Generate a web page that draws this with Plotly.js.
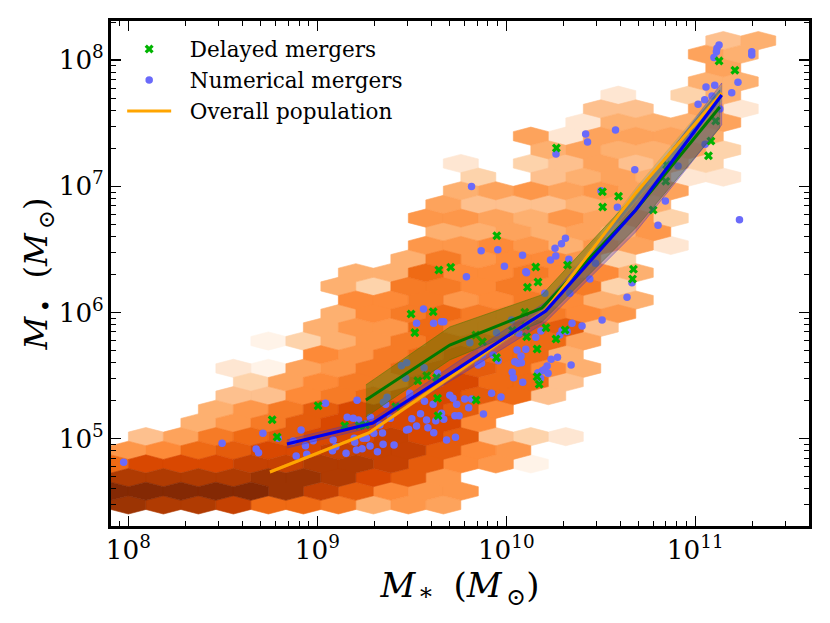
<!DOCTYPE html>
<html><head><meta charset="utf-8">
<script src="https://cdn.plot.ly/plotly-3.0.1.min.js"></script>
<style>html,body{margin:0;padding:0;background:#fff}</style></head>
<body><div id="chart" style="width:830px;height:623px"></div>
<script>
// all values are log10 of the mass
const blueLogMstar=[7.975,8.496,8.712,8.676,8.689,8.793,8.914,8.872,8.937,8.978,8.888,8.944,9.043,9.210,9.158,9.190,9.218,9.281,9.257,9.084,9.098,9.080,9.152,9.195,9.198,9.207,9.237,9.242,9.260,9.299,9.279,9.318,9.345,9.348,9.331,9.406,9.350,9.369,9.362,9.387,9.445,9.473,9.467,9.525,9.562,9.615,9.657,9.669,9.565,9.636,9.489,9.489,9.567,9.613,9.500,9.546,9.578,9.627,9.657,9.669,9.701,9.718,9.737,9.728,9.750,9.525,9.472,9.483,9.585,9.616,9.684,9.731,9.789,10.107,10.442,10.336,10.204,10.507,10.027,10.348,10.401,9.948,9.807,10.066,10.183,10.156,10.295,10.322,10.283,10.057,10.103,10.078,9.930,9.957,10.045,10.062,10.080,9.874,9.869,9.851,10.237,10.271,10.343,10.216,10.204,10.191,10.221,10.167,10.181,10.031,10.038,10.087,9.922,9.972,9.780,9.816,9.801,9.879,10.639,10.665,11.126,11.115,11.112,11.099,11.299,11.299,11.226,11.193,11.103,11.057,11.089,11.050,11.015,11.130,10.983,11.052,10.909,10.578,10.420,10.430,10.263,10.680,9.816,10.501,10.588,10.842,10.803,11.234,10.313,10.292,10.258,10.262,10.234,10.331,9.867,9.955,10.086,9.990,10.103,10.472];
const blueLogMbh=[4.813,4.963,5.043,4.918,4.889,5.003,5.069,4.982,4.944,4.984,4.863,4.876,5.280,5.304,5.169,5.162,5.148,5.169,5.116,4.990,4.936,4.905,4.884,5.003,4.971,4.910,4.921,5.003,5.003,5.043,4.942,4.897,5.045,4.955,5.108,4.950,5.288,5.328,5.272,5.162,5.578,5.602,5.478,5.914,6.027,5.914,5.927,5.927,5.562,5.518,5.359,5.333,5.296,5.272,5.158,5.198,5.148,5.142,5.201,5.153,5.344,5.320,5.272,5.182,5.182,5.100,5.069,5.074,5.087,5.047,4.990,5.011,6.283,6.315,6.265,6.152,6.152,5.940,5.940,5.914,5.893,5.840,5.760,5.835,5.853,5.803,5.856,5.848,5.821,5.703,5.708,5.655,5.663,5.618,5.610,5.597,5.602,5.663,5.597,5.584,5.629,5.645,5.584,5.576,5.550,5.539,5.518,5.523,5.478,5.526,5.483,5.447,5.359,5.330,5.314,5.314,5.245,5.195,6.120,6.236,8.119,8.093,8.066,8.019,8.066,8.040,7.824,7.741,7.800,7.787,7.715,7.686,7.650,7.612,7.432,7.333,7.161,7.446,7.414,7.351,7.256,7.131,6.997,6.965,6.833,6.883,6.691,6.735,6.588,6.545,6.508,6.447,6.416,6.421,6.489,6.497,6.453,6.366,6.323,6.390];
const greenLogMstar=[11.126,11.210,11.108,11.083,11.070,10.265,10.849,10.844,10.509,10.594,10.510,10.777,9.950,10.156,10.324,10.673,10.668,10.168,10.112,10.098,10.033,9.839,9.874,10.103,10.108,10.210,10.311,10.263,10.163,9.948,10.163,10.174,9.840,8.761,8.787,9.004,9.145,9.221,9.255,9.415,9.496,9.613,9.516,9.532,9.579,9.631,9.636,9.639,9.643,9.706];
const greenLogMbh=[7.993,7.919,7.517,7.359,7.242,7.303,7.169,7.039,6.957,6.921,6.836,6.812,6.608,6.360,6.376,6.342,6.265,6.241,6.199,6.001,5.856,5.821,5.768,5.893,5.808,5.879,5.861,5.790,5.711,5.642,5.491,5.431,5.306,5.150,5.013,5.261,5.103,5.103,5.108,5.253,5.988,6.006,5.840,5.459,5.499,5.483,5.320,5.182,6.337,6.358];
const overallX=[8.749,9.272,9.743,10.209,10.685,11.140];
const overallY=[4.736,5.045,5.528,6.020,6.947,7.739];
const overallHi=[4.745,5.055,5.545,6.040,6.985,7.800];
const overallLo=[4.727,5.035,5.510,5.995,6.880,7.670];
const numX=[8.839,9.294,9.749,10.209,10.685,11.140];
const numY=[4.958,5.124,5.560,6.012,6.812,7.723];
const numHi=[4.990,5.156,5.615,6.083,6.907,7.818];
const numLo=[4.926,5.092,5.497,5.925,6.638,7.486];
const delX=[9.257,9.701,10.188,10.685,11.130];
const delY=[5.306,5.742,6.035,6.812,7.628];
const delHi=[5.426,5.885,6.139,6.940,7.763];
const delLo=[5.172,5.624,5.925,6.670,7.462];
// hexbin: one row per grid row, first entry = first column, others = density level
const hexRows=[
[0,15,14,14,13,10,10,9,5,7,6],
[0,16,16,16,16,16,15,13,11,8,7,7],
[0,14,14,14,14,15,15,14,12,11,7],
[0,10,12,12,12,13,13,14,14,13,11,8,7,1],
[0,7,8,10,11,12,12,13,13,13,11,8,7],
[1,4,6,9,10,11,12,12,13,12,11,4,3,2],
[2,5,7,9,11,12,12,12,12,8],
[3,5,7,9,11,12,12,12,11,8],
[3,4,4,8,9,10,11,12,11,10,4],
[4,3,6,8,9,9,11,12,10,10,4],
[3,2,1,6,7,9,10,11,11,10,8,5],
[6,8,7,9,10,11,10,10,5],
[4,1,3,5,7,9,10,10,10,10,6],
[6,5,7,7,10,9,9,11,11,4],
[6,5,8,9,10,9,9,9,8,7],
[7,8,8,9,7,8,9,8,5,5],
[6,5,3,9,9,8,9,8,9,3],
[7,5,5,10,8,8,9,8,8,5],
[8,5,9,7,8,8,7,3],
[9,7,7,8,7,5,7,6,2],
[9,5,5,6,5,6,5,7],
[9,7,7,6,5,7,6,7,3],
[9,6,4,4,4,5,6,5],
[10,5,6,7,6,7,6,6],
[10,3,0,4,5,6,5,2,2],
[10,2,0,3,4,6,4,5,3],
[12,5,6,5,5,6,3],
[12,6,2,6,6,6,5],
[13,2,5,5,5,6],
[14,4,4,0,6,2],
[14,2,0,3,5],
[17,5,5],
[17,6],
[17,6,5],
[17,4,5]];
const hexX0=8.0, hexDX=0.1852, hexY0=4.475, hexDY=0.1082;
const levelColors=['','#fff3e8','#fee6d2','#fdd3ab','#fdc08e','#fdb070','#fda35c','#fd974a','#fd8a38','#f67b26','#ef6a14','#e55c0c','#d94801','#c54102','#b03b02','#9c3403','#842904'];

const p=a=>a.map(v=>Math.pow(10,v));
const traces=[];
const byLevel={};
hexRows.forEach((row,r)=>{
  row.slice(1).forEach((lev,i)=>{
    if(!lev)return;
    const k=row[0]+i, cx=hexX0+hexDX*(k-(r%2?0.5:0)), cy=hexY0+hexDY*r;
    const hw=hexDX/2, ht=hexDY*2/3, hs=hexDY/3;
    const b=byLevel[lev]||(byLevel[lev]={x:[],y:[]});
    [[-hw,-hs],[0,-ht],[hw,-hs],[hw,hs],[0,ht],[-hw,hs],[-hw,-hs]].forEach(v=>{
      b.x.push(Math.pow(10,cx+v[0]));b.y.push(Math.pow(10,cy+v[1]));});
    b.x.push(null);b.y.push(null);
  });
});
Object.keys(byLevel).forEach(l=>{
  traces.push({type:'scatter',mode:'lines',x:byLevel[l].x,y:byLevel[l].y,fill:'toself',fillcolor:levelColors[l],
    line:{color:levelColors[l],width:0.6},hoverinfo:'skip',showlegend:false});
});
traces.push({type:'scatter',mode:'markers',name:'\u00a0\u00a0Numerical mergers',x:p(blueLogMstar),y:p(blueLogMbh),legendgroup:'b',legendrank:2,
  marker:{symbol:'circle',size:7.5,color:'#6a6afa'}});
traces.push({type:'scatter',mode:'markers',name:'\u00a0\u00a0Delayed mergers',x:p(greenLogMstar),y:p(greenLogMbh),legendgroup:'a',legendrank:1,
  marker:{symbol:'x',size:8,color:'#00b400',line:{width:0}}});
function band(xs,hi,lo,col,edge){
  return {type:'scatter',mode:'lines',x:p(xs.concat(xs.slice().reverse())),y:p(hi.concat(lo.slice().reverse())),fill:'toself',
    fillcolor:col,line:{color:edge,width:1},hoverinfo:'skip',showlegend:false};
}
traces.push(band(delX,delHi,delLo,'rgba(70,120,0,0.42)','rgba(70,120,0,0.5)'));
traces.push(band(numX,numHi,numLo,'rgba(70,50,200,0.3)','rgba(70,50,200,0.4)'));
traces.push(band(overallX,overallHi,overallLo,'rgba(60,160,170,0.25)','rgba(255,165,0,0.3)'));
traces.push({type:'scatter',mode:'lines',x:p(delX),y:p(delY),line:{color:'#007a00',width:3},hoverinfo:'skip',showlegend:false});
traces.push({type:'scatter',mode:'lines',name:'\u00a0\u00a0Overall population',x:p(overallX),y:p(overallY),legendgroup:'c',legendrank:3,line:{color:'#ffa500',width:3}});
traces.push({type:'scatter',mode:'lines',x:p(numX),y:p(numY),line:{color:'#0000f0',width:3.2},hoverinfo:'skip',showlegend:false});

const serif='"DejaVu Serif", serif';
const axis={type:'log',showgrid:false,zeroline:false,showline:true,linecolor:'#000',linewidth:3,mirror:'allticks',
  ticks:'inside',ticklen:10,tickwidth:1.2,tickcolor:'#000',dtick:1,exponentformat:'power',showexponent:'all',
  tickfont:{family:serif,size:21,color:'#000'},
  minor:{ticks:'inside',ticklen:5,tickwidth:1,tickcolor:'#000',dtick:'D1',showgrid:false}};
const layout={width:830,height:623,margin:{l:111,r:21,t:21,b:97},paper_bgcolor:'#fff',plot_bgcolor:'#fff',
  font:{family:serif,color:'#000'},
  xaxis:Object.assign({},axis,{range:[7.908,11.602],
    title:{text:'<i>M</i><sub>\u2009*</sub>\u00a0\u00a0(<i>M</i><sub>\u2009⊙</sub>)',font:{family:serif,size:34},standoff:0}}),
  yaxis:Object.assign({},axis,{range:[4.308,8.309],
    title:{text:'<i>M</i><sub>\u2009•</sub>\u00a0\u00a0(<i>M</i><sub>\u2009⊙</sub>)',font:{family:serif,size:32},standoff:2}}),
  legend:{x:0.016,y:0.985,xanchor:'left',yanchor:'top',bgcolor:'rgba(0,0,0,0)',font:{family:serif,size:21.5,color:'#000'},
    itemwidth:44,tracegroupgap:5,traceorder:'normal'},
  showlegend:true};
Plotly.newPlot('chart',traces,layout,{displayModeBar:false,staticPlot:true});
</script></body></html>
